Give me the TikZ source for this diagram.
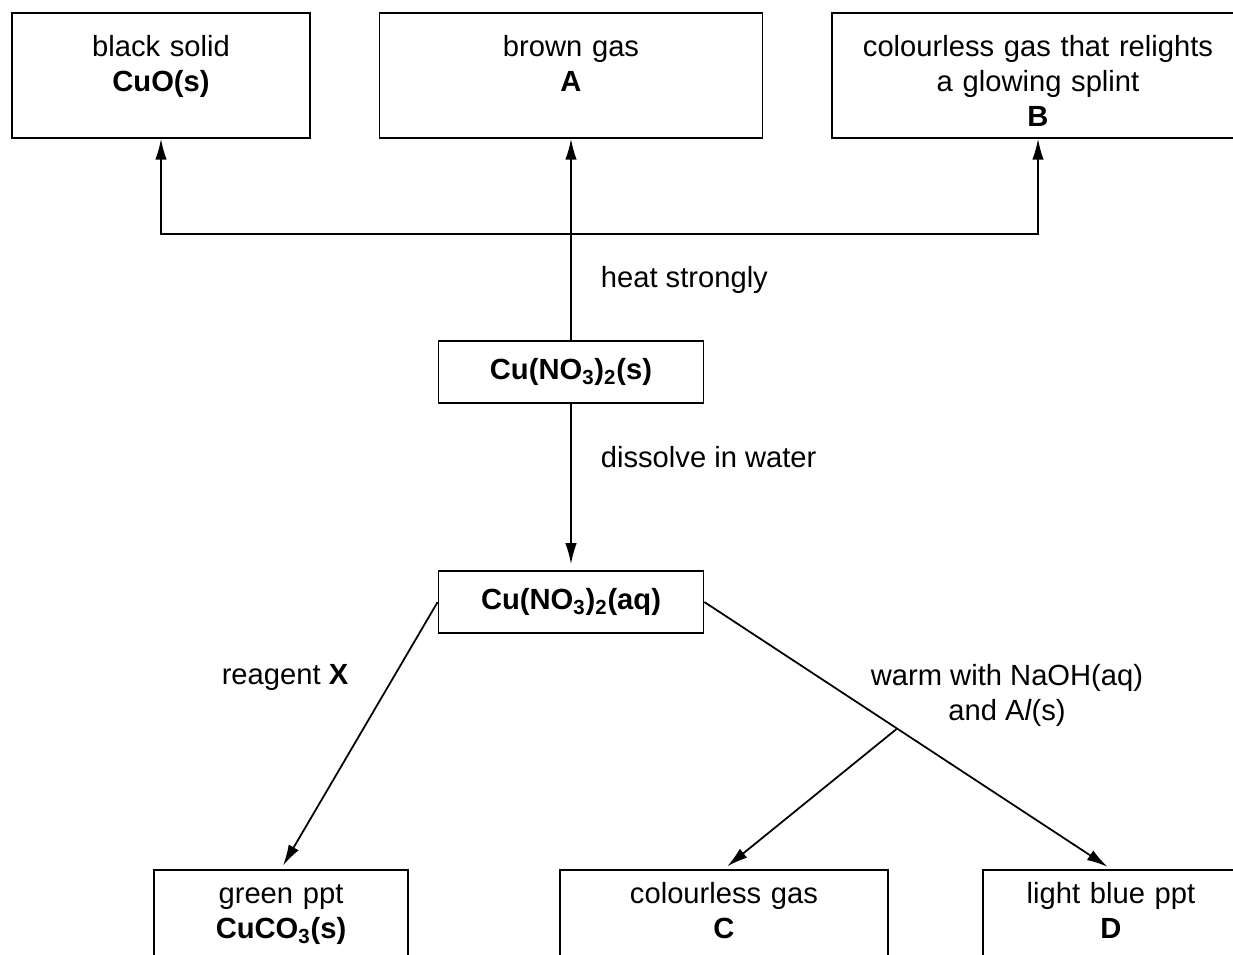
\documentclass[tikz,border=0pt]{standalone}
\usepackage{fontspec}
\setmainfont{Liberation Sans}
\usetikzlibrary{arrows.meta, positioning, calc}
\newcommand{\diagfont}{\fontsize{16.6}{19.9}\selectfont}
\tikzset{
  topbox/.style = {rectangle, draw=black, anchor=north, align=center, inner sep=0pt, text height=0.87cm, text depth=1.63cm},
  basebox/.style = {rectangle, draw=black, anchor=north, align=center, inner sep=0pt, text height=0.68cm, text depth=2cm},
  saltbox/.style = {rectangle, draw=black, minimum width=5.3cm, minimum height=1.24cm, font=\diagfont\bfseries},
  note/.style = {inner sep=0pt}
}

\begin{document}
\begin{tikzpicture}[x=0.02cm, y=-0.02cm, line width=1pt, >={Latex[length=4.2mm,width=2.3mm]}, every node/.style={font=\diagfont}]
  \useasboundingbox (0,0) rectangle (1233,954);
  % products of strong heating
  \node (cuo) [topbox, text width=5.96cm] at (161,12) {black solid\\\textbf{CuO(s)}};
  \node (gasA) [topbox, text width=7.66cm] at (571,12) {brown gas\\\textbf{A}};
  \node (gasB) [topbox, text width=8.24cm] at (1038,12) {colourless gas that relights\\a glowing splint\\\textbf{B}};
  % the nitrate, solid and in solution
  \node (nitS) [saltbox] at (571,372) {Cu(NO\textsubscript{3})\textsubscript{2}(s)};
  \node (nitAq) [saltbox] at (571,602) {Cu(NO\textsubscript{3})\textsubscript{2}(aq)};
  % products of the tests
  \node (green) [basebox, text width=5.08cm] at (281,869) {green ppt\\\textbf{CuCO\textsubscript{3}(s)}};
  \node (gasC) [basebox, text width=6.56cm] at (724,869) {colourless gas\\\textbf{C}};
  \node (blueD) [basebox, text width=5.12cm] at (1111,869) {light blue ppt\\\textbf{D}};

  \coordinate (joint) at (571,234);
  \draw[->] (nitS) -- node[note, pos=0.3, right=0.58cm] {heat strongly} (gasA);
  \draw[->] (joint) -| (cuo);
  \draw[->] (joint) -| (gasB);
  \draw[->, shorten >=0.12cm] (nitS) -- node[note, pos=0.32, right=0.58cm] {dissolve in water} (nitAq);

  \draw[->, shorten >=0.08cm] (nitAq.west) -- (green.north);
  \draw[->, shorten >=0.08cm] (nitAq.east) -- coordinate[pos=0.474] (fork) (blueD.north);
  \draw[->, shorten >=0.08cm] (fork) -- (gasC.north);
  \node (reagent) [note] at (285,677) {reagent \textbf{X}};
  \node (warm) [note, align=center] at (1007,695) {warm with NaOH(aq)\\and A\textit{l}(s)};
\end{tikzpicture}
\end{document}
